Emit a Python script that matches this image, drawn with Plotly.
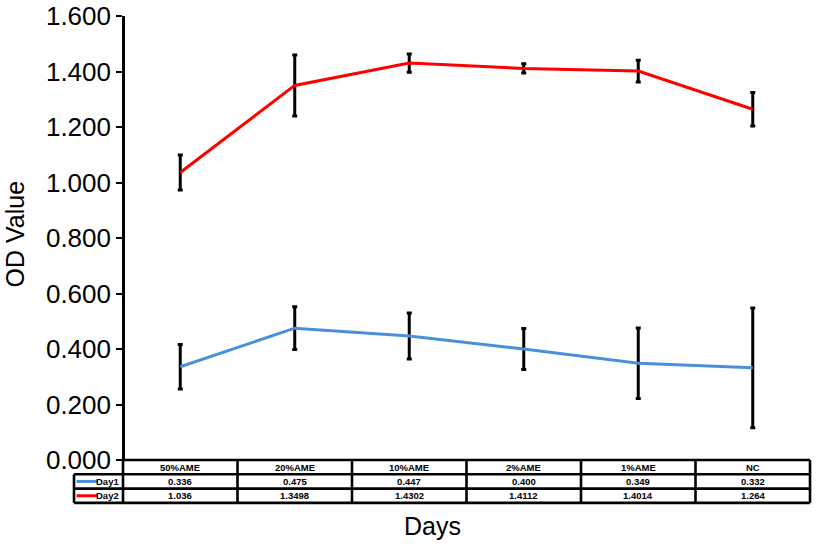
import plotly.graph_objects as go

categories = ["50%AME", "20%AME", "10%AME", "2%AME", "1%AME", "NC"]
day1 = [0.336, 0.475, 0.447, 0.400, 0.349, 0.332]
day2 = [1.036, 1.3498, 1.4302, 1.4112, 1.4014, 1.264]
day1_err = [0.080, 0.077, 0.083, 0.074, 0.127, 0.216]
day2_err = [0.063, 0.110, 0.033, 0.017, 0.039, 0.060]
y_ticks = [0.0, 0.2, 0.4, 0.6, 0.8, 1.0, 1.2, 1.4, 1.6]
series_names = ["Day1", "Day2"]

day1_labels = [f"{v:.3f}" for v in day1]
day2_labels = [str(v) for v in day2]

BLUE = "#4a90d9"
RED = "#ff0000"
FONT = "Liberation Sans, Arial, sans-serif"

# ---- page geometry (px) ----
W, H = 816, 544
ML, MR, MT, MB = 70, 2, 16, 38
PX0, PX1 = ML, W - MR          # paper plot area x
PY0, PY1 = MT, H - MB          # paper plot area y (top, bottom)
AX_X = 123                     # y axis / first category boundary
TABLE_R = 810                  # table right edge
AX_Y0 = 460                    # y = 0 line / table top
ROW_H = 14.3
LEFT_COL = 49
n = len(categories)
cat_px = (TABLE_R - AX_X) / n

pw = PX1 - PX0
ph = PY1 - PY0
x_lo = -0.5 - (AX_X - PX0) / cat_px
x_hi = n - 0.5 + (PX1 - TABLE_R) / cat_px
lc = LEFT_COL / cat_px

y_dom0 = (PY1 - AX_Y0) / ph
t_top_px = AX_Y0 - 3
y2_dom1 = (PY1 - t_top_px) / ph
y2_top = -(AX_Y0 - t_top_px) / ROW_H
y2_bot = (PY1 - AX_Y0) / ROW_H

fig = go.Figure()
xs = list(range(n))
for name, vals, errs, col in [("Day1", day1, day1_err, BLUE), ("Day2", day2, day2_err, RED)]:
    fig.add_trace(go.Scatter(
        x=xs, y=vals, mode="lines", name=name,
        line=dict(color=col, width=3),
        error_y=dict(type="data", array=errs, visible=True,
                     color="black", thickness=3, width=2.5),
        xaxis="x", yaxis="y",
    ))

# ---- data table under the chart ----
LW = 2.6
shapes = []
def hline(y, x0, x1):
    shapes.append(dict(type="line", xref="x", yref="y2", x0=x0, x1=x1, y0=y, y1=y,
                       line=dict(color="black", width=LW)))
def vline(x, y0, y1):
    shapes.append(dict(type="line", xref="x", yref="y2", x0=x, x1=x, y0=y0, y1=y1,
                       line=dict(color="black", width=LW)))

hline(0, -0.5, n - 0.5)
for r in (1, 2, 3):
    hline(r, -0.5 - lc, n - 0.5)
vline(-0.5 - lc, 1, 3)
for i in range(n + 1):
    vline(-0.5 + i, 0, 3)

annotations = []
tfont = dict(family=FONT, size=9.5, color="black", weight="bold")
for i, c in enumerate(categories):
    annotations.append(dict(text=c, x=i, y=0.5, xref="x", yref="y2", showarrow=False,
                            font=tfont, xanchor="center", yanchor="middle"))
for row, labels in ((1, day1_labels), (2, day2_labels)):
    for i, t in enumerate(labels):
        annotations.append(dict(text=t, x=i, y=row + 0.5, xref="x", yref="y2", showarrow=False,
                                font=tfont, xanchor="center", yanchor="middle"))

for row, (name, col) in enumerate(zip(series_names, [BLUE, RED]), start=1):
    annotations.append(dict(text=name, x=-0.5, y=row + 0.5, xref="x", yref="y2", showarrow=False,
                            font=tfont, xanchor="right", yanchor="middle", xshift=-2))
    shapes.append(dict(type="line", xref="x", yref="y2",
                       x0=-0.5 - lc + 2.5 / cat_px, x1=-0.5 - 26 / cat_px,
                       y0=row + 0.5, y1=row + 0.5, line=dict(color=col, width=3)))

annotations.append(dict(text="Days", xref="paper", yref="paper",
                        x=(432 - PX0) / pw, y=0, xanchor="center", yanchor="middle",
                        yshift=-(526 - PY1), showarrow=False,
                        font=dict(size=25, family=FONT, color="black")))
annotations.append(dict(text="OD Value", xref="paper", yref="paper",
                        x=(14.5 - PX0) / pw, y=(PY1 - 234) / ph,
                        xanchor="center", yanchor="middle", textangle=-90,
                        showarrow=False,
                        font=dict(size=25, family=FONT, color="black")))

fig.update_layout(
    width=W, height=H,
    margin=dict(l=ML, r=MR, t=MT, b=MB, autoexpand=False),
    paper_bgcolor="white", plot_bgcolor="rgba(0,0,0,0)",
    showlegend=False,
    font=dict(family=FONT, color="black"),
    xaxis=dict(domain=[0, 1], range=[x_lo, x_hi],
               showticklabels=False, showgrid=False, zeroline=False,
               showline=False, ticks="", fixedrange=True),
    yaxis=dict(domain=[y_dom0, 1], range=[0, 1.6],
               anchor="free", position=(AX_X - PX0) / pw,
               tickvals=y_ticks, tickformat=".3f",
               showgrid=False, zeroline=False,
               showline=True, linecolor="black", linewidth=2.6,
               ticks="outside", ticklen=6, tickwidth=2, tickcolor="black",
               tickfont=dict(size=26, family=FONT),
               automargin=False),
    yaxis2=dict(domain=[0, y2_dom1], range=[y2_bot, y2_top], anchor="x",
                visible=False, showgrid=False, zeroline=False, fixedrange=True),
    shapes=shapes,
    annotations=annotations,
)

fig.write_html("out.html", config={"displayModeBar": False},
               post_script="document.body.style.margin='0px';")
